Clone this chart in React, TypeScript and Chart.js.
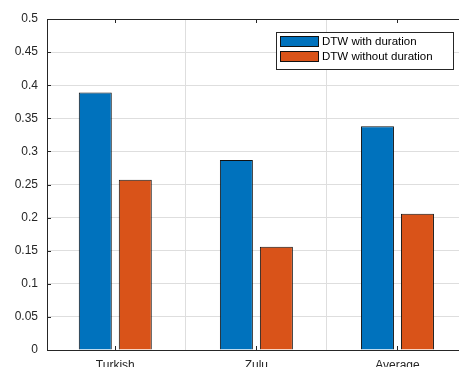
import React, { useEffect, useRef } from "react";
import { Chart, registerables } from "chart.js";

Chart.register(...registerables);

// ---- data ----
const categories = ["Turkish", "Zulu", "Average"];
const categoryPositions = [1, 2, 3];
const withDuration = [0.389, 0.287, 0.338];
const withoutDuration = [0.257, 0.156, 0.206];
const seriesNames = ["DTW with duration", "DTW without duration"];
const yMin = 0;
const yMax = 0.5;
const yStep = 0.05;

// ---- styles ----
const FONT = "'Liberation Sans', Arial, Helvetica, sans-serif";
const AXIS = "#262626";
const GRID = "#dedede";
const BLUE = "#0072BD";
const ORANGE = "#D95319";

const framePlugin = {
  id: "matlabFrame",
  afterDraw(chart: any) {
    const { ctx, chartArea: a, scales } = chart;
    const xs = scales.x;
    const ys = scales.y;
    ctx.save();
    ctx.strokeStyle = AXIS;
    ctx.lineWidth = 1;
    const line = (x1: number, y1: number, x2: number, y2: number) => {
      ctx.beginPath();
      ctx.moveTo(x1, y1);
      ctx.lineTo(x2, y2);
      ctx.stroke();
    };
    // top frame line
    line(a.left, Math.round(a.top) + 0.5, a.right, Math.round(a.top) + 0.5);
    // inward ticks on y axis
    ys.ticks.forEach((t: any) => {
      const py = Math.round(ys.getPixelForValue(t.value)) + 0.5;
      line(a.left, py, a.left + 4, py);
    });
    // inward ticks on x axis (bottom and top)
    xs.ticks.forEach((t: any) => {
      const px = Math.round(xs.getPixelForValue(t.value)) + 0.5;
      line(px, a.bottom, px, a.bottom - 4);
      line(px, a.top, px, a.top + 4);
    });

    // legend box
    ctx.font = `11.5px ${FONT}`;
    const names = chart.data.datasets.map((d: any) => d.label);
    const textW = Math.max(...names.map((n: string) => ctx.measureText(n).width));
    const swW = 39;
    const swH = 11;
    const boxRight = Math.round(a.right - 15);
    const boxW = Math.round(4 + swW + 3 + textW + 20);
    const boxLeft = boxRight - boxW;
    const boxTop = Math.round(a.top + 13);
    const rowH = 15;
    const boxH = 4 + rowH * names.length + 3;
    ctx.fillStyle = "#ffffff";
    ctx.fillRect(boxLeft, boxTop, boxW, boxH);
    ctx.strokeStyle = AXIS;
    ctx.strokeRect(boxLeft + 0.5, boxTop + 0.5, boxW, boxH);
    names.forEach((n: string, i: number) => {
      const ds = chart.data.datasets[i];
      const sx = boxLeft + 4;
      const sy = boxTop + 4 + i * rowH;
      ctx.fillStyle = ds.backgroundColor;
      ctx.fillRect(sx, sy, swW, swH);
      ctx.strokeStyle = "#111111";
      ctx.strokeRect(sx + 0.5, sy + 0.5, swW - 1, swH - 1);
      ctx.fillStyle = "#000000";
      ctx.textBaseline = "middle";
      ctx.textAlign = "left";
      ctx.fillText(n, sx + swW + 3, sy + swH / 2 + 0.5);
    });
    ctx.restore();
  },
};

export default function App() {
  const ref = useRef<HTMLCanvasElement | null>(null);

  useEffect(() => {
    if (!ref.current) return;
    const toPoints = (vals: number[]) =>
      vals.map((v, i) => ({ x: categoryPositions[i], y: v }));
    const chart = new Chart(ref.current, {
      type: "bar",
      data: {
        datasets: [
          {
            label: seriesNames[0],
            data: toPoints(withDuration),
            backgroundColor: BLUE,
            borderColor: "#111111",
            borderWidth: 1,
            categoryPercentage: 0.567,
            barPercentage: 0.825,
          },
          {
            label: seriesNames[1],
            data: toPoints(withoutDuration),
            backgroundColor: ORANGE,
            borderColor: "#111111",
            borderWidth: 1,
            categoryPercentage: 0.567,
            barPercentage: 0.825,
          },
        ],
      },
      options: {
        responsive: false,
        animation: false,
        devicePixelRatio: 1,
        layout: { padding: { top: 19, left: 0, right: 0, bottom: 0 } },
        plugins: {
          legend: { display: false },
          tooltip: { enabled: false },
        },
        scales: {
          x: {
            type: "linear",
            min: 0.516,
            max: 3.5,
            offset: false,
            afterBuildTicks: (s: any) => {
              s.ticks = categoryPositions.map((v) => ({ value: v }));
            },
            afterFit: (s: any) => {
              s.height = 40;
            },
            ticks: {
              autoSkip: false,
              maxRotation: 0,
              padding: 8,
              color: AXIS,
              font: { family: FONT, size: 12 },
              callback: (v: any) => {
                const i = categoryPositions.indexOf(Number(v));
                return i >= 0 ? categories[i] : "";
              },
            },
            grid: { color: GRID, drawTicks: false },
            border: { color: AXIS, width: 1 },
          },
          y: {
            min: yMin,
            max: yMax,
            afterFit: (s: any) => {
              s.width = 47;
            },
            ticks: {
              stepSize: yStep,
              padding: 9,
              color: AXIS,
              font: { family: FONT, size: 12 },
              callback: (v: any) => String(parseFloat(Number(v).toFixed(2))),
            },
            grid: { color: GRID, drawTicks: false },
            border: { color: AXIS, width: 1 },
          },
        },
      },
      plugins: [framePlugin],
    } as any);
    return () => chart.destroy();
  }, []);

  return (
    <div
      style={{
        position: "fixed",
        left: 0,
        top: 0,
        width: 459,
        height: 367,
        overflow: "hidden",
        background: "#ffffff",
      }}
    >
      <canvas ref={ref} width={468} height={390} style={{ display: "block" }} />
    </div>
  );
}
